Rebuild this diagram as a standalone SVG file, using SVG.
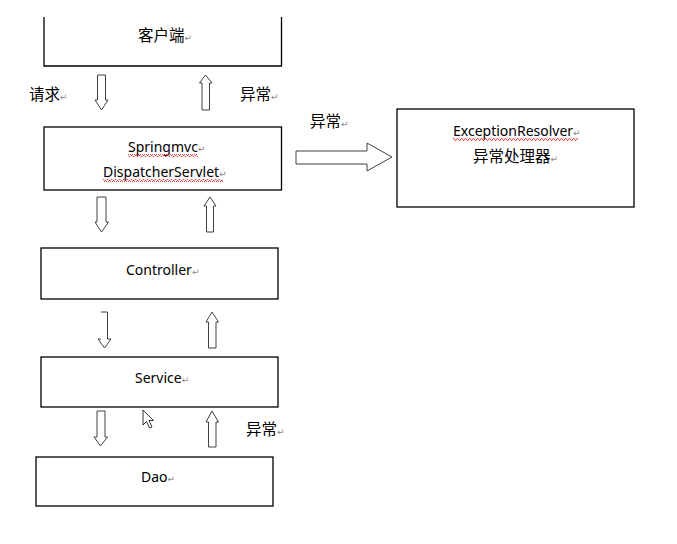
<svg xmlns="http://www.w3.org/2000/svg" width="677" height="544" viewBox="0 0 677 544">
<style>
.box{fill:#fff;stroke:#000;stroke-width:1.3}
.arr{fill:#fff;stroke:#404040;stroke-width:1}
.t{font-family:"Noto Sans","Noto Sans CJK SC",sans-serif;font-size:14px;fill:#000}
.c{font-family:"Noto Sans CJK SC","Noto Sans",sans-serif;font-size:15.5px;fill:#000}
.pm{font-family:"DejaVu Sans",sans-serif;font-size:9px;fill:#888}
</style>
<defs>
<pattern id="wavy" width="4" height="3" patternUnits="userSpaceOnUse">
<polyline points="0,2.5 1,0.5 2,0.5 3,2.5 4,2.5" fill="none" stroke="#e02020" stroke-width="0.8"/>
</pattern>
</defs>
<rect width="677" height="544" fill="#fff"/>

<g id="client">
<path class="box" d="M44,17 V66 H281.5 V17"/>
<text class="c" x="138" y="41">客户端<tspan class="pm">↵</tspan></text>
</g>

<g id="dispatcher">
<rect class="box" x="44" y="127" width="237.5" height="63"/>
<text class="t" x="128" y="152">Springmvc<tspan class="pm">↵</tspan></text>
<rect x="128" y="154" width="70" height="3" fill="url(#wavy)"/>
<text class="t" x="103" y="177">DispatcherServlet<tspan class="pm">↵</tspan></text>
<rect x="103" y="179" width="120" height="3" fill="url(#wavy)"/>
</g>

<g id="resolver">
<rect class="box" x="397" y="109" width="237" height="98"/>
<text class="t" x="453" y="136">ExceptionResolver<tspan class="pm">↵</tspan></text>
<rect x="453" y="138" width="125" height="3" fill="url(#wavy)"/>
<text class="c" x="473" y="162">异常处理器<tspan class="pm">↵</tspan></text>
</g>

<g id="controller">
<rect class="box" x="41" y="248" width="237" height="51"/>
<text class="t" x="126" y="275">Controller<tspan class="pm">↵</tspan></text>
</g>

<g id="service">
<rect class="box" x="41" y="357" width="237" height="50"/>
<text class="t" x="135" y="383">Service<tspan class="pm">↵</tspan></text>
</g>

<g id="dao">
<rect class="box" x="36" y="457" width="237" height="49"/>
<text class="t" x="141" y="482">Dao<tspan class="pm">↵</tspan></text>
</g>

<g id="connectors">
<path class="arr" d="M97.5,75 H105.5 V100 H108 L101.5,110 L95,100 H97.5 Z"/>
<path class="arr" d="M202,110 H209.5 V83 H212 L205.5,75 L199.5,83 H202 Z"/>
<path class="arr" d="M296,151 H367 V143 L392,157 L367,171 V164 H296 Z"/>
<path class="arr" d="M97,197 H106 V222 H108.5 L101.5,232 L95,222 H97 Z"/>
<path class="arr" d="M206.5,232 H213.5 V206 H216 L210,197 L204,206 H206.5 Z"/>
<path class="arr" d="M101,312 H107.5 V339 H111 L104.5,348 L98,339 H101"/>
<path class="arr" d="M208.5,348 H216 V322 H218.5 L212,312 L206,322 H208.5 Z"/>
<path class="arr" d="M97,411 H105 V437 H107.5 L100.5,446 L94,437 H97 Z"/>
<path class="arr" d="M208.5,447 H216 V422 H218.5 L212,411 L206,422 H208.5 Z"/>
</g>

<g id="labels">
<text class="c" x="29" y="100">请求<tspan class="pm">↵</tspan></text>
<text class="c" x="240" y="100">异常<tspan class="pm">↵</tspan></text>
<text class="c" x="310" y="127">异常<tspan class="pm">↵</tspan></text>
<text class="c" x="246" y="435">异常<tspan class="pm">↵</tspan></text>
</g>

<path d="M143,410 V425 L146.5,421.5 L149.5,428 L152,427 L149,420.5 L153.5,420.5 Z" fill="#fff" stroke="#000" stroke-width="0.8"/>
</svg>
